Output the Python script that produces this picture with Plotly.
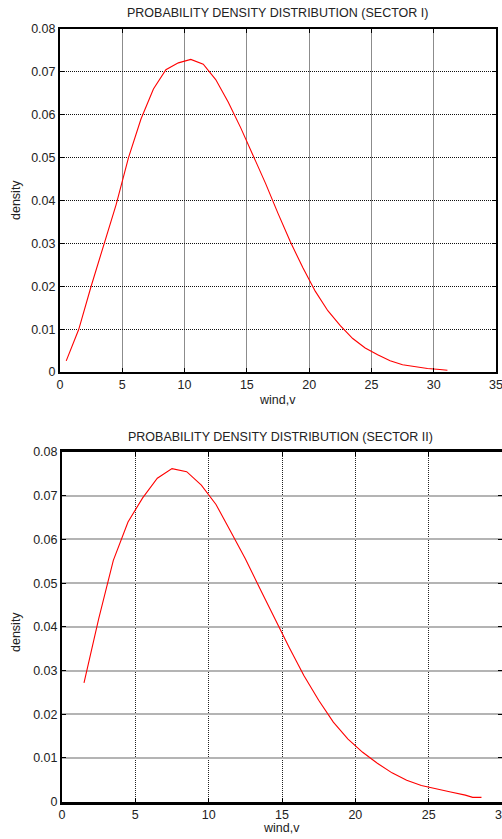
import plotly.graph_objects as go

# Sector I data
wind_1 = [0.5, 1.5, 2.5, 3.5, 4.5, 5.5, 6.5, 7.5, 8.5, 9.5, 10.5, 11.5, 12.5, 13.5, 14.5, 15.5,
          16.5, 17.5, 18.5, 19.5, 20.5, 21.5, 22.5, 23.5, 24.5, 25.5, 26.5, 27.5, 28.5, 29.5, 30.5, 31.1]
density_1 = [0.0026, 0.0099, 0.0200, 0.0293, 0.0390, 0.0500, 0.0590, 0.0660, 0.0705, 0.0721, 0.0729,
             0.0718, 0.0682, 0.0630, 0.0570, 0.0505, 0.0440, 0.0370, 0.0303, 0.0243, 0.0188, 0.0143,
             0.0108, 0.0078, 0.0056, 0.0040, 0.0026, 0.0017, 0.0012, 0.0008, 0.0006, 0.0004]

# Sector II data
wind_2 = [1.5, 2.5, 3.5, 4.5, 5.5, 6.5, 7.5, 8.5, 9.5, 10.5, 11.5, 12.5, 13.5, 14.5, 15.5, 16.5,
          17.5, 18.5, 19.5, 20.5, 21.5, 22.5, 23.5, 24.5, 25.5, 26.5, 27.5, 28.0, 28.6]
density_2 = [0.0272, 0.0418, 0.0552, 0.0640, 0.0695, 0.0740, 0.0762, 0.0755, 0.0724, 0.0680, 0.0618,
             0.0556, 0.0487, 0.0418, 0.0352, 0.0288, 0.0232, 0.0182, 0.0143, 0.0113, 0.0088, 0.0066,
             0.0049, 0.0037, 0.0029, 0.0022, 0.0015, 0.0010, 0.0010]

titles = ["PROBABILITY DENSITY DISTRIBUTION (SECTOR I)", "PROBABILITY DENSITY DISTRIBUTION (SECTOR II)"]
x_label = "wind,v"
y_label = "density"
y_ticks = [0, 0.01, 0.02, 0.03, 0.04, 0.05, 0.06, 0.07, 0.08]
y_ticktext = ["0", "0.01", "0.02", "0.03", "0.04", "0.05", "0.06", "0.07", "0.08"]
x_ticks_1 = [0, 5, 10, 15, 20, 25, 30, 35]
x_ticks_2 = [0, 5, 10, 15, 20, 25, 30]

W, H = 502, 839
FONT = "Liberation Sans, Arial, sans-serif"


def px(x):
    return min(max(x / W, 0), 1)


def py(y):
    return min(max(1 - y / H, 0), 1)


fig = go.Figure()
fig.add_trace(go.Scatter(x=wind_1, y=density_1, mode="lines", line=dict(color="#ff0000", width=1.1),
                         xaxis="x", yaxis="y", showlegend=False))
fig.add_trace(go.Scatter(x=wind_2, y=density_2, mode="lines", line=dict(color="#ff0000", width=1.1),
                         xaxis="x2", yaxis="y2", showlegend=False))

common = dict(showline=True, linecolor="black", mirror="ticks", ticks="inside", ticklen=4,
              tickcolor="black", zeroline=False, automargin=False, ticklabeloverflow="allow",
              tickfont=dict(family=FONT, size=12.5, color="#222"))

fig.update_layout(
    xaxis=dict(domain=[px(60), px(496)], range=[0, 35], tickvals=x_ticks_1, anchor="y",
               showgrid=True, gridcolor="#8c8c8c", gridwidth=1.2, linewidth=2, **common),
    yaxis=dict(domain=[py(372), py(29)], range=[0, 0.08], tickvals=y_ticks, ticktext=y_ticktext,
               anchor="x", showgrid=True, gridcolor="#111", gridwidth=1, griddash="1px,1px",
               linewidth=2, **common),
    xaxis2=dict(domain=[px(62), 1.0], range=[0, 30], tickvals=x_ticks_2, anchor="y2",
                showgrid=True, gridcolor="#222", gridwidth=1, griddash="1px,1px", linewidth=2.5, **common),
    yaxis2=dict(domain=[py(801.7), py(452)], range=[0, 0.08], tickvals=y_ticks, ticktext=y_ticktext,
                anchor="x2", showgrid=True, gridcolor="#b4b4b4", gridwidth=2, linewidth=2, **common),
)

annots = [
    dict(text=titles[0], x=px(277), y=py(13)),
    dict(text=titles[1], x=px(280), y=py(437)),
    dict(text=x_label, x=px(277), y=py(400)),
    dict(text=x_label, x=px(281), y=py(828)),
    dict(text=y_label, x=px(16), y=py(200), textangle=-90),
    dict(text=y_label, x=px(16), y=py(632), textangle=-90),
]
for a in annots:
    fig.add_annotation(xref="paper", yref="paper", showarrow=False, xanchor="center", yanchor="middle",
                       font=dict(family=FONT, size=12.5, color="#222"), **a)

fig.update_layout(width=W, height=H, margin=dict(l=0, r=0, t=0, b=0),
                  paper_bgcolor="white", plot_bgcolor="white")

fig.write_html("out.html", config={"displayModeBar": False})
